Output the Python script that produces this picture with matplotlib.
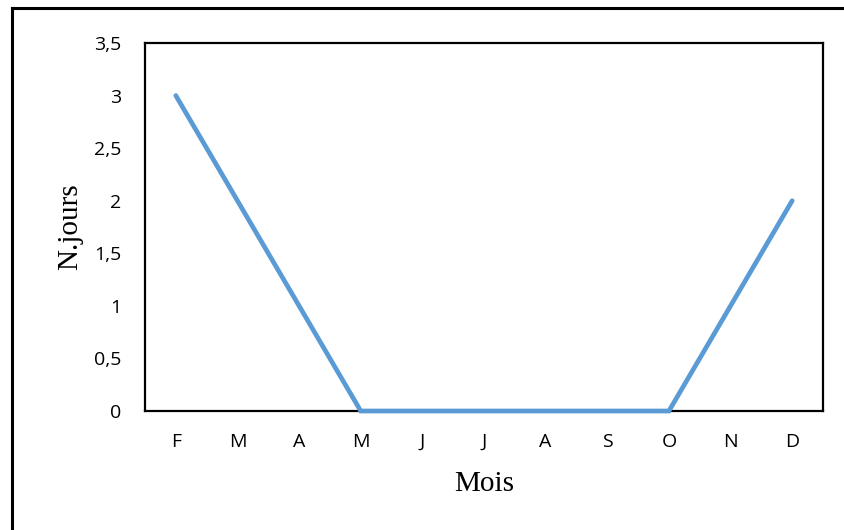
import matplotlib.pyplot as plt
from matplotlib.lines import Line2D

mois = ['F', 'M', 'A', 'M', 'J', 'J', 'A', 'S', 'O', 'N', 'D']
n_jours = [3, 2, 1, 0, 0, 0, 0, 0, 0, 1, 2]
y_ticks = [0, 0.5, 1, 1.5, 2, 2.5, 3, 3.5]

fig = plt.figure(figsize=(8.45, 5.3), dpi=100)
ax = fig.add_axes([145 / 845, 1 - 411 / 530, 678 / 845, 368 / 530])

x = range(len(mois))
ax.plot(x, n_jours, color='#5B9BD5', linewidth=3.4, solid_capstyle='round',
        solid_joinstyle='miter', clip_on=False, zorder=3)

ax.set_xlim(-0.5, len(mois) - 0.5)
ax.set_ylim(0, 3.5)
ax.set_xticks(list(x))
ax.set_xticklabels(mois, fontsize=14, family='Open Sans')
ax.set_yticks(y_ticks)
ax.set_yticklabels([f'{v:g}'.replace('.', ',') for v in y_ticks],
                   fontsize=14, family='Open Sans')
ax.tick_params(axis='x', length=0, pad=16)
ax.tick_params(axis='y', length=0, pad=17)
for s in ax.spines.values():
    s.set_linewidth(1.6)
    s.set_color('black')

ax.set_xlabel('Mois', family='Liberation Serif', fontsize=21, labelpad=14)
ax.set_ylabel('N.jours', family='Liberation Serif', fontsize=21, labelpad=8)

# cadre extérieur (bords gauche et haut seulement)
fig.add_artist(Line2D([12 / 845, 12 / 845], [0, 1 - 8 / 530], color='black',
                      linewidth=2.2, transform=fig.transFigure))
fig.add_artist(Line2D([12 / 845, 1], [1 - 8 / 530, 1 - 8 / 530], color='black',
                      linewidth=2.2, transform=fig.transFigure))

fig.savefig('out.png', dpi=100)
